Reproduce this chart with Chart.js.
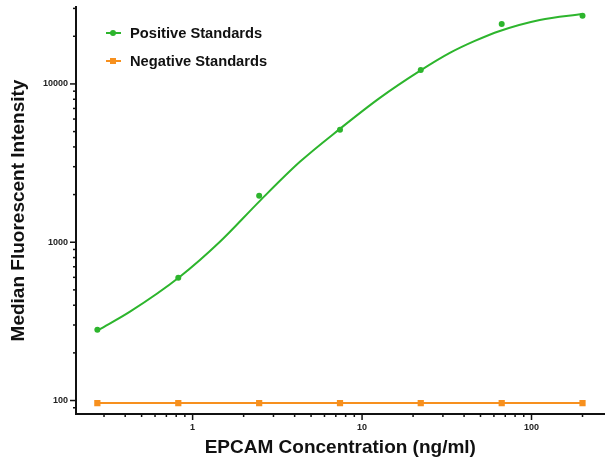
<!DOCTYPE html>
<html lang="en">
<head>
  <meta charset="UTF-8">
  <title>EPCAM Standard Curve</title>
  <style>
    body { margin: 0; background: #fff; }
    #wrap { position: relative; width: 609px; height: 461px; }
    .legend { position: absolute; left: 104px; font: bold 14.7px "Liberation Sans", Arial, sans-serif; color: #111; }
    .legend .mark { position: absolute; left: 2px; top: 0; width: 15px; height: 2px; }
    .legend .dot { position: absolute; }
    .legend span.txt { position: absolute; left: 26px; white-space: nowrap; }
  </style>
  <script src="https://cdn.jsdelivr.net/npm/chart.js"></script>
</head>
<body>
  <div id="wrap">
    <canvas id="mfiChart"></canvas>
    <div class="legend" style="top:32px">
      <div class="mark" style="background:#2db52d"></div>
      <div class="dot" style="left:6px;top:-2px;width:6px;height:6px;border-radius:50%;background:#2db52d"></div>
      <span class="txt" style="top:-7px">Positive Standards</span>
    </div>
    <div class="legend" style="top:60px">
      <div class="mark" style="background:#f7901e"></div>
      <div class="dot" style="left:6px;top:-2px;width:6px;height:6px;background:#f7901e"></div>
      <span class="txt" style="top:-7px">Negative Standards</span>
    </div>
  </div>
  <script>
    const concentrations = [0.274, 0.823, 2.47, 7.41, 22.2, 66.7, 200];
    const positiveMFI = [280, 596, 1963, 5131, 12254, 23940, 26990];
    const negativeMFI = [96.4, 96.4, 96.4, 96.4, 96.4, 96.4, 96.4];

    // fitted curve
    const fitConc = [0.280, 0.427, 0.841, 1.449, 2.495, 4.296, 7.396, 12.74, 21.93, 32.96, 46.3, 65.0, 111.9, 200.8];
    const fitMFI = [280, 364, 605, 1006, 1826, 3219, 5199, 8159, 12081, 15692, 18685, 21608, 25351, 27665];

    const xTicks = [0.3, 0.4, 0.5, 0.6, 0.7, 0.8, 0.9, 1, 2, 3, 4, 5, 6, 7, 8, 9,
                    10, 20, 30, 40, 50, 60, 70, 80, 90, 100, 200];
    const yTicks = [90, 100, 200, 300, 400, 500, 600, 700, 800, 900, 1000, 2000, 3000, 4000,
                    5000, 6000, 7000, 8000, 9000, 10000, 20000, 30000];
    const xLabels = [1, 10, 100];
    const yLabels = [100, 1000, 10000];

    const green = '#2db52d';
    const orange = '#f7901e';
    const FONT = '"Liberation Sans", Arial, sans-serif';

    const pts = (xs, ys) => xs.map((x, i) => ({ x: x, y: ys[i] }));

    // major / minor tick marks outside the axes
    const tickMarks = {
      id: 'tickMarks',
      afterDraw(chart) {
        const ctx = chart.ctx;
        ctx.save();
        ctx.strokeStyle = '#111';
        ctx.lineWidth = 1.5;
        const xs = chart.scales.x, ys = chart.scales.y;
        xs.ticks.forEach(t => {
          const px = xs.getPixelForValue(t.value);
          const len = xLabels.includes(t.value) ? 6 : 3;
          ctx.beginPath();
          ctx.moveTo(px, xs.top);
          ctx.lineTo(px, xs.top + len);
          ctx.stroke();
        });
        ys.ticks.forEach(t => {
          const py = ys.getPixelForValue(t.value);
          const len = yLabels.includes(t.value) ? 6 : 3;
          ctx.beginPath();
          ctx.moveTo(ys.right, py);
          ctx.lineTo(ys.right - len, py);
          ctx.stroke();
        });
        ctx.restore();
      }
    };

    new Chart(document.getElementById('mfiChart'), {
      type: 'scatter',
      data: {
        datasets: [
          {
            label: 'Positive fit',
            data: pts(fitConc, fitMFI),
            showLine: true,
            borderColor: green,
            borderWidth: 2,
            pointRadius: 0,
            cubicInterpolationMode: 'monotone'
          },
          {
            label: 'Positive Standards',
            data: pts(concentrations, positiveMFI),
            showLine: false,
            backgroundColor: green,
            borderColor: green,
            pointRadius: 3,
            pointBorderWidth: 0
          },
          {
            label: 'Negative Standards',
            data: pts(concentrations, negativeMFI),
            showLine: true,
            borderColor: orange,
            backgroundColor: orange,
            borderWidth: 2,
            pointStyle: 'rect',
            pointRadius: 4.4,
            pointBorderWidth: 0
          }
        ]
      },
      options: {
        responsive: true,
        maintainAspectRatio: false,
        animation: false,
        layout: { padding: { top: 7, right: 4, left: 0, bottom: 0 } },
        plugins: { legend: { display: false }, tooltip: { enabled: false } },
        scales: {
          x: {
            type: 'logarithmic',
            min: 0.205,
            max: 270,
            afterBuildTicks: scale => { scale.ticks = xTicks.map(v => ({ value: v })); },
            afterFit: scale => { scale.height = 47; scale.paddingLeft = 0; scale.paddingRight = 0; },
            grid: { display: false, drawTicks: false },
            border: { display: true, color: '#111', width: 2 },
            ticks: {
              autoSkip: false,
              maxRotation: 0,
              padding: 8,
              color: '#222',
              font: { family: FONT, size: 9, weight: 'bold' },
              callback: v => xLabels.includes(v) ? String(v) : ''
            },
            title: {
              display: true,
              text: 'EPCAM Concentration (ng/ml)',
              color: '#111',
              font: { family: FONT, size: 19, weight: 'bold' },
              padding: { top: 0, bottom: 2 }
            }
          },
          y: {
            type: 'logarithmic',
            min: 82.2,
            max: 30620,
            afterBuildTicks: scale => { scale.ticks = yTicks.map(v => ({ value: v })); },
            afterFit: scale => { scale.width = 76; scale.paddingTop = 0; scale.paddingBottom = 0; },
            grid: { display: false, drawTicks: false },
            border: { display: true, color: '#111', width: 2 },
            ticks: {
              autoSkip: false,
              padding: 8,
              color: '#222',
              font: { family: FONT, size: 9, weight: 'bold' },
              callback: v => yLabels.includes(v) ? String(v) : ''
            },
            title: {
              display: true,
              text: 'Median Fluorescent Intensity',
              color: '#111',
              font: { family: FONT, size: 19, weight: 'bold' },
              padding: { top: 7, bottom: 0 }
            }
          }
        }
      },
      plugins: [tickMarks]
    });
  </script>
</body>
</html>
